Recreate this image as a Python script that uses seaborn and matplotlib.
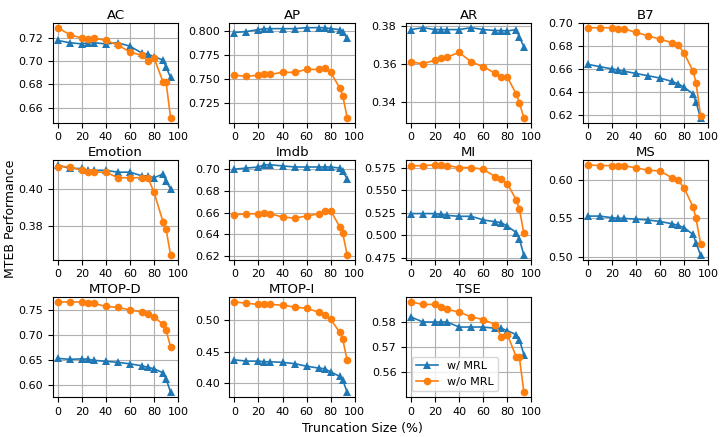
import numpy as np
import pandas as pd
import matplotlib
matplotlib.use("Agg")
import matplotlib.pyplot as plt
import seaborn as sns

# Tamanhos de truncamento (%)
truncation = [0, 10, 20, 25, 30, 40, 50, 60, 70, 75, 80, 87.5, 90, 93.75]

tasks = ["AC", "AP", "AR", "B7", "Emotion", "Imdb", "MI", "MS", "MTOP-D", "MTOP-I", "TSE"]

# Valores
ac_mrl = [0.718, 0.716, 0.715, 0.716, 0.716, 0.715, 0.716, 0.713, 0.707, 0.706, 0.704, 0.701, 0.695, 0.686]
ac_base = [0.729, 0.723, 0.720, 0.719, 0.720, 0.718, 0.714, 0.708, 0.705, 0.700, 0.703, 0.682, 0.682, 0.651]
ap_mrl = [0.798, 0.799, 0.801, 0.802, 0.802, 0.802, 0.802, 0.803, 0.803, 0.803, 0.802, 0.801, 0.799, 0.792]
ap_base = [0.754, 0.753, 0.754, 0.755, 0.755, 0.757, 0.757, 0.760, 0.760, 0.761, 0.757, 0.741, 0.733, 0.710]
ar_mrl = [0.378, 0.379, 0.378, 0.378, 0.378, 0.378, 0.379, 0.378, 0.3775, 0.3775, 0.3773, 0.378, 0.374, 0.369]
ar_base = [0.361, 0.360, 0.362, 0.363, 0.3635, 0.366, 0.361, 0.3585, 0.355, 0.353, 0.353, 0.344, 0.3395, 0.3315]
b7_mrl = [0.664, 0.662, 0.660, 0.659, 0.658, 0.656, 0.654, 0.652, 0.649, 0.647, 0.644, 0.638, 0.631, 0.617]
b7_base = [0.696, 0.696, 0.696, 0.695, 0.695, 0.692, 0.689, 0.686, 0.683, 0.681, 0.674, 0.658, 0.648, 0.619]
emotion_mrl = [0.413, 0.411, 0.411, 0.410, 0.410, 0.410, 0.409, 0.409, 0.407, 0.407, 0.406, 0.408, 0.404, 0.400]
emotion_base = [0.412, 0.412, 0.410, 0.409, 0.409, 0.409, 0.406, 0.406, 0.406, 0.406, 0.398, 0.382, 0.378, 0.364]
imdb_mrl = [0.700, 0.701, 0.702, 0.704, 0.704, 0.703, 0.702, 0.702, 0.702, 0.702, 0.702, 0.701, 0.698, 0.691]
imdb_base = [0.658, 0.659, 0.659, 0.660, 0.659, 0.656, 0.655, 0.657, 0.659, 0.662, 0.662, 0.647, 0.641, 0.621]
mi_mrl = [0.524, 0.524, 0.524, 0.523, 0.522, 0.521, 0.521, 0.517, 0.515, 0.514, 0.510, 0.503, 0.496, 0.478]
mi_base = [0.577, 0.577, 0.578, 0.578, 0.577, 0.575, 0.575, 0.573, 0.565, 0.562, 0.557, 0.539, 0.529, 0.502]
ms_mrl = [0.553, 0.553, 0.551, 0.550, 0.550, 0.549, 0.548, 0.546, 0.543, 0.541, 0.538, 0.529, 0.518, 0.502]
ms_base = [0.620, 0.619, 0.619, 0.619, 0.619, 0.616, 0.613, 0.612, 0.603, 0.600, 0.590, 0.565, 0.550, 0.517]
mtopd_mrl = [0.653, 0.651, 0.652, 0.651, 0.649, 0.647, 0.645, 0.642, 0.638, 0.635, 0.632, 0.624, 0.612, 0.585]
mtopd_base = [0.766, 0.766, 0.766, 0.764, 0.763, 0.757, 0.755, 0.750, 0.746, 0.741, 0.736, 0.721, 0.709, 0.676]
mtopi_mrl = [0.437, 0.435, 0.435, 0.434, 0.434, 0.433, 0.431, 0.427, 0.424, 0.423, 0.418, 0.411, 0.405, 0.386]
mtopi_base = [0.528, 0.526, 0.524, 0.525, 0.524, 0.523, 0.520, 0.518, 0.512, 0.507, 0.501, 0.480, 0.469, 0.436]
tse_mrl = [0.582, 0.580, 0.580, 0.580, 0.580, 0.578, 0.578, 0.578, 0.5775, 0.5775, 0.5765, 0.575, 0.573, 0.567]
tse_base = [0.588, 0.587, 0.587, 0.586, 0.585, 0.584, 0.582, 0.581, 0.579, 0.574, 0.575, 0.566, 0.566, 0.552]

mrl = [ac_mrl, ap_mrl, ar_mrl, b7_mrl, emotion_mrl, imdb_mrl, mi_mrl, ms_mrl, mtopd_mrl, mtopi_mrl, tse_mrl]
base = [ac_base, ap_base, ar_base, b7_base, emotion_base, imdb_base, mi_base, ms_base, mtopd_base, mtopi_base, tse_base]

# Ticks do eixo y de cada painel
yticks = [
    [0.66, 0.68, 0.70, 0.72],
    [0.725, 0.750, 0.775, 0.800],
    [0.34, 0.36, 0.38],
    [0.62, 0.64, 0.66, 0.68, 0.70],
    [0.38, 0.40],
    [0.62, 0.64, 0.66, 0.68, 0.70],
    [0.475, 0.500, 0.525, 0.550, 0.575],
    [0.50, 0.55, 0.60],
    [0.60, 0.65, 0.70, 0.75],
    [0.40, 0.45, 0.50],
    [0.56, 0.57, 0.58],
]
ytick_fmt = ["%.2f", "%.3f", "%.2f", "%.2f", "%.2f", "%.2f", "%.3f", "%.2f", "%.2f", "%.2f", "%.2f"]

plt.rcParams["font.size"] = 8
plt.rcParams["xtick.labelsize"] = 8
plt.rcParams["ytick.labelsize"] = 8

fig, axes = plt.subplots(3, 4, figsize=(7.24, 4.37), dpi=100)
axes = axes.flatten()

for i, task in enumerate(tasks):
    ax = axes[i]
    sns.lineplot(x=truncation, y=mrl[i], ax=ax, marker="^", markersize=5.5,
                 markeredgewidth=0, color="#1f77b4", linewidth=1.2, label="w/ MRL")
    sns.lineplot(x=truncation, y=base[i], ax=ax, marker="o", markersize=5.5,
                 markeredgewidth=0, color="#ff7f0e", linewidth=1.2, label="w/o MRL")
    ax.set_title(task, fontsize=9.5, pad=3)
    ax.set_xlim(-4, 100)
    ax.set_xticks([0, 20, 40, 60, 80, 100])
    ax.set_yticks(yticks[i])
    ax.yaxis.set_major_formatter(plt.FormatStrFormatter(ytick_fmt[i]))
    ax.grid(True, color="#b0b0b0", linewidth=0.8)
    ax.set_axisbelow(True)
    if task == "TSE":
        ax.legend(loc="lower left", fontsize=8)
    else:
        ax.get_legend().remove()

axes[11].axis("off")

fig.supxlabel("Truncation Size (%)", fontsize=9, y=0.005)
fig.supylabel("MTEB Performance", fontsize=9, x=0.005)

plt.subplots_adjust(left=0.073, right=0.978, top=0.947, bottom=0.092, wspace=0.41, hspace=0.38)
plt.savefig("out.png")
